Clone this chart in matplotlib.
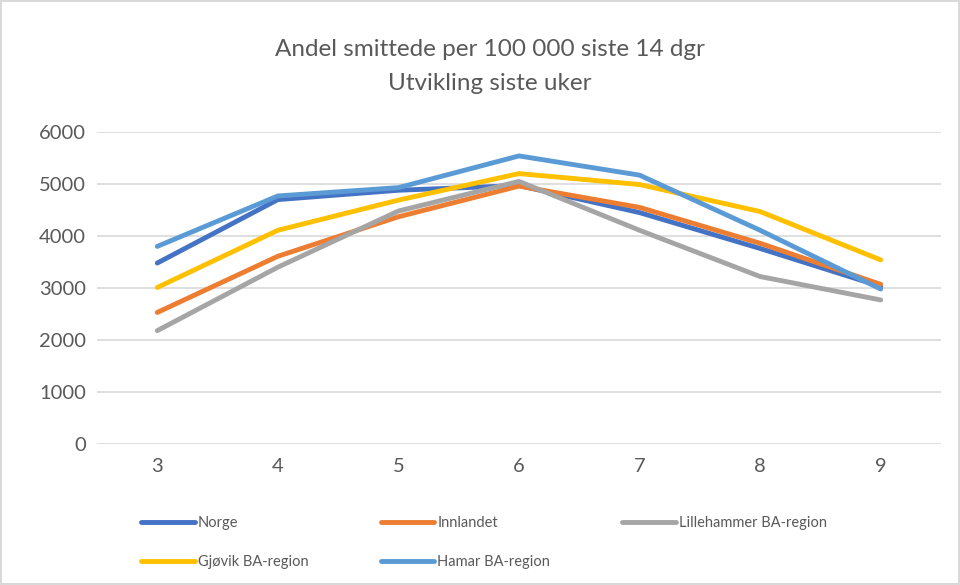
import matplotlib
matplotlib.use("Agg")
import matplotlib.pyplot as plt

plt.rcParams['font.family'] = ['Lato', 'DejaVu Sans']

weeks = [3, 4, 5, 6, 7, 8, 9]
week_labels = ['3', '4', '5', '6', '7', '8', '9']

norge = [3480, 4700, 4880, 4970, 4450, 3760, 3030]
innlandet = [2530, 3610, 4370, 4960, 4550, 3860, 3070]
lillehammer = [2180, 3400, 4480, 5050, 4110, 3220, 2770]
gjovik = [3010, 4110, 4690, 5200, 4990, 4470, 3540]
hamar = [3800, 4770, 4930, 5540, 5170, 4110, 2980]

series_names = ['Norge', 'Innlandet', 'Lillehammer BA-region',
                'Gjøvik BA-region', 'Hamar BA-region']
series_values = [norge, innlandet, lillehammer, gjovik, hamar]
colors = ['#4472c4', '#ed7d31', '#a5a5a5', '#ffc000', '#5b9bd5']

fig = plt.figure(figsize=(9.6, 5.85), dpi=100)
fig.patch.set_edgecolor('#d9d9d9')
fig.patch.set_linewidth(1.5)

ax = fig.add_axes([97 / 960, 1 - 444 / 585, 844 / 960, 312 / 585])

x = list(range(len(weeks)))
lines = []
for name, vals, c in zip(series_names, series_values, colors):
    ln, = ax.plot(x, vals, color=c, linewidth=3.5, label=name,
                  solid_capstyle='round', solid_joinstyle='round')
    lines.append(ln)

ax.set_xlim(-0.5, len(weeks) - 0.5)
ax.set_ylim(0, 6000)
ax.set_yticks(range(0, 6001, 1000))
ax.set_xticks(x)
ax.set_xticklabels(week_labels)
ax.grid(axis='y', color='#d9d9d9', linewidth=1.2)
ax.set_axisbelow(True)
for s in ax.spines.values():
    s.set_visible(False)
ax.tick_params(length=0, labelsize=14.5, labelcolor='#595959')
ax.tick_params(axis='x', pad=10)
ax.tick_params(axis='y', pad=8)

fig.text(490 / 960, 1 - 49 / 585, 'Andel smittede per 100 000 siste 14 dgr',
         ha='center', va='center', fontsize=17.5, color='#595959')
fig.text(490 / 960, 1 - 84 / 585, 'Utvikling siste uker',
         ha='center', va='center', fontsize=17.5, color='#595959')

# legend is filled column by column, so reorder to get row-wise layout
order = [0, 3, 1, 4, 2]
fig.legend([lines[i] for i in order], [series_names[i] for i in order],
           loc='upper left', bbox_to_anchor=(135 / 960, 1 - 510 / 585),
           ncol=3, frameon=False, fontsize=10.5, labelcolor='#595959',
           handlelength=3.7, handletextpad=0.2, columnspacing=4.95,
           labelspacing=1.75, borderaxespad=0)

fig.savefig('out.png', dpi=100)
